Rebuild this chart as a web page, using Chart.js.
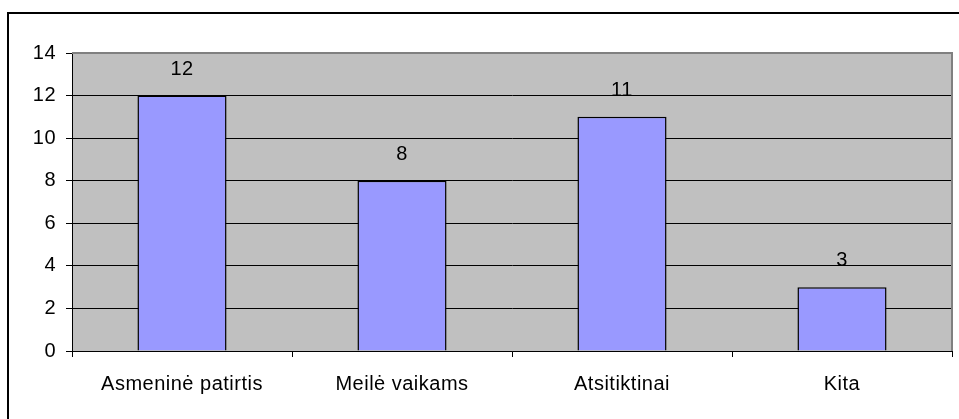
<!DOCTYPE html>
<html>
<head>
<meta charset="utf-8">
<script src="https://cdn.jsdelivr.net/npm/chart.js@4.4.0/dist/chart.umd.min.js"></script>
<style>
  html, body { margin: 0; padding: 0; background: #ffffff; }
  #wrap { position: relative; width: 959px; height: 419px; }
</style>
</head>
<body>
<div id="wrap"><canvas id="c" width="959" height="419"></canvas></div>
<script>
const categories = ["Asmeninė patirtis", "Meilė vaikams", "Atsitiktinai", "Kita"];
const values = [12, 8, 11, 3];
const yTicks = [0, 2, 4, 6, 8, 10, 12, 14];

const LS = '0.5px';
const FAMILY = '"Liberation Sans", Arial, sans-serif';

const frame = {
  id: 'frame',
  beforeLayout(chart) { chart.ctx.letterSpacing = LS; },
  beforeDraw(chart) {
    const ctx = chart.ctx, a = chart.chartArea;
    ctx.save();
    ctx.fillStyle = '#ffffff';
    ctx.fillRect(0, 0, chart.width, chart.height);
    ctx.strokeStyle = '#000000';
    ctx.lineWidth = 2;
    ctx.beginPath();
    ctx.moveTo(8, 419); ctx.lineTo(8, 13); ctx.lineTo(959, 13);
    ctx.stroke();
    ctx.fillStyle = '#c0c0c0';
    ctx.fillRect(a.left, a.top, a.right - a.left, a.bottom - a.top);
    ctx.restore();
    ctx.letterSpacing = LS;
  },
  afterDatasetsDraw(chart) {
    const ctx = chart.ctx, a = chart.chartArea;
    ctx.save();
    ctx.strokeStyle = '#808080';
    ctx.lineWidth = 2;
    ctx.beginPath();
    ctx.moveTo(a.left, a.top); ctx.lineTo(a.right, a.top); ctx.lineTo(a.right, a.bottom);
    ctx.stroke();
    ctx.letterSpacing = LS;
    ctx.fillStyle = '#000000';
    ctx.font = '20px ' + FAMILY;
    ctx.textAlign = 'center';
    ctx.textBaseline = 'alphabetic';
    const meta = chart.getDatasetMeta(0);
    meta.data.forEach((bar, i) => {
      ctx.fillText(String(values[i]), bar.x, bar.y - 21);
    });
    ctx.restore();
  }
};

new Chart(document.getElementById('c'), {
  type: 'bar',
  data: {
    labels: categories,
    datasets: [{
      data: values,
      backgroundColor: '#9999ff',
      borderColor: '#000000',
      borderWidth: 1.5,
      categoryPercentage: 1,
      barPercentage: 0.405
    }]
  },
  options: {
    responsive: false,
    animation: false,
    devicePixelRatio: 1,
    layout: { padding: { left: 0, top: 53, right: 7, bottom: 0 } },
    plugins: { legend: { display: false }, tooltip: { enabled: false } },
    scales: {
      x: {
        grid: { drawOnChartArea: false, tickLength: 6, tickColor: '#000000', lineWidth: 1 },
        border: { color: '#000000', width: 1 },
        ticks: { color: '#000000', padding: 15, maxRotation: 0,
                 font: { family: FAMILY, size: 20 } },
        afterFit(s) { s.height = 68; }
      },
      y: {
        min: 0, max: 14,
        afterBuildTicks(s) { s.ticks = yTicks.map(v => ({ value: v })); },
        grid: {
          color: (c) => (c.tick && c.tick.value === 14) ? '#808080' : '#000000',
          tickColor: '#000000', tickLength: 6, lineWidth: 1
        },
        border: { color: '#000000', width: 1 },
        ticks: { color: '#000000', padding: 10,
                 font: { family: FAMILY, size: 20 } },
        afterFit(s) { s.width = 72; }
      }
    }
  },
  plugins: [frame]
});
</script>
</body>
</html>
